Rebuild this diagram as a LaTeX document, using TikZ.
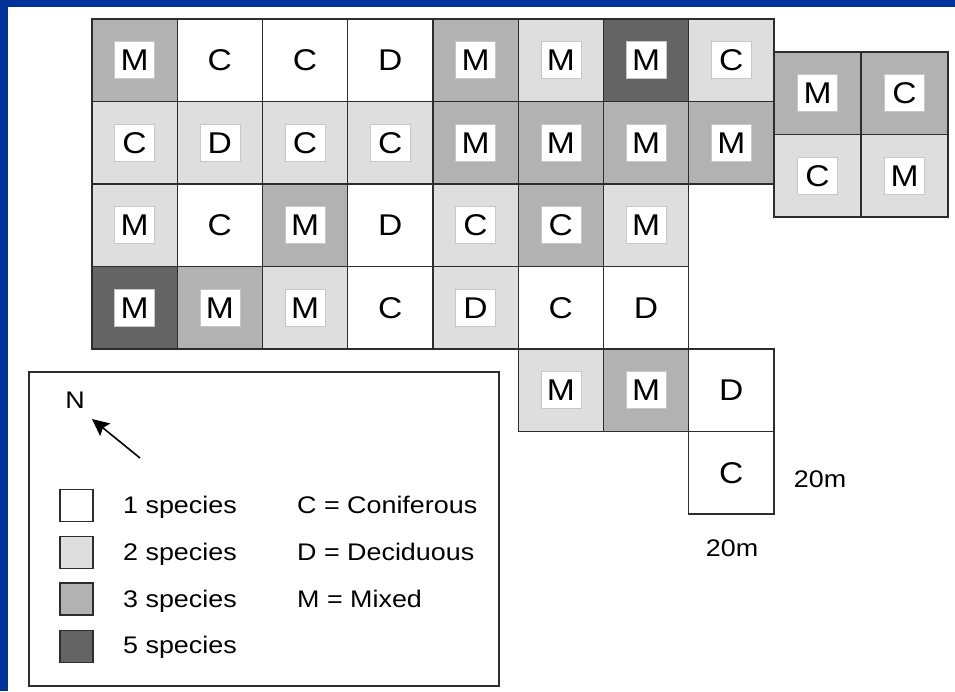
\documentclass[tikz,border=0pt]{standalone}
\usepackage{fontspec}
\setmainfont{Liberation Sans}
\newfontfamily\widesans[FakeStretch=1.12]{Liberation Sans}
\usetikzlibrary{arrows.meta}

\definecolor{frameblue}{RGB}{0,51,153}
\definecolor{shadeone}{RGB}{255,255,255}
\definecolor{shadetwo}{RGB}{222,222,222}
\definecolor{shadethree}{RGB}{178,178,178}
\definecolor{shadefive}{RGB}{100,100,100}
\definecolor{gridline}{RGB}{45,45,45}

\begin{document}
\begin{tikzpicture}[x=1pt,y=-1pt,
  plot/.style={draw=gridline, line width=1.3pt, inner sep=0pt, outer sep=0pt,
    minimum width=85.25pt, minimum height=82.5pt},
  wideplot/.style={plot, minimum width=87pt},
  sp1/.style={fill=shadeone},
  sp2/.style={fill=shadetwo},
  sp3/.style={fill=shadethree},
  sp5/.style={fill=shadefive},
  tag/.style={font=\widesans\fontsize{30pt}{31pt}\selectfont, inner sep=0pt},
  plain/.style={tag},
  boxed/.style={tag, fill=white, draw=black!22, line width=0.6pt,
    minimum width=40pt, minimum height=37pt},
  swatch/.style={draw=gridline, line width=1.2pt, minimum width=33pt,
    minimum height=32pt, inner sep=0pt},
  legtext/.style={font=\widesans\fontsize{24pt}{26pt}\selectfont, inner sep=0pt,
    anchor=base west},
]
% page and frame
\useasboundingbox (0,0) rectangle (955,691);
\fill[white] (0,0) rectangle (955,691);
\fill[frameblue] (0,0) rectangle (955,7);
\fill[frameblue] (0,0) rectangle (8,691);

% main block of 20m plots: column/row/species class/type/label style
\foreach \c/\r/\s/\l/\b in {
  0/0/sp3/M/boxed, 1/0/sp1/C/plain, 2/0/sp1/C/plain, 3/0/sp1/D/plain,
  4/0/sp3/M/boxed, 5/0/sp2/M/boxed, 6/0/sp5/M/boxed, 7/0/sp2/C/boxed,
  0/1/sp2/C/boxed, 1/1/sp2/D/boxed, 2/1/sp2/C/boxed, 3/1/sp2/C/boxed,
  4/1/sp3/M/boxed, 5/1/sp3/M/boxed, 6/1/sp3/M/boxed, 7/1/sp3/M/boxed,
  0/2/sp2/M/boxed, 1/2/sp1/C/plain, 2/2/sp3/M/boxed, 3/2/sp1/D/plain,
  4/2/sp2/C/boxed, 5/2/sp3/C/boxed, 6/2/sp2/M/boxed,
  0/3/sp5/M/boxed, 1/3/sp3/M/boxed, 2/3/sp2/M/boxed, 3/3/sp1/C/plain,
  4/3/sp2/D/boxed, 5/3/sp1/C/plain, 6/3/sp1/D/plain,
  5/4/sp2/M/boxed, 6/4/sp3/M/boxed, 7/4/sp1/D/plain,
  7/5/sp1/C/plain}
{
  \node[plot, \s] (cell-\c-\r) at ({134.6+85.25*\c}, {60.25+82.5*\r}) {};
  \node[\b] (tag-\c-\r) at (cell-\c-\r.center) {\l};
}

% detached 2x2 block on the east side
\foreach \c/\r/\s/\l in {0/0/sp3/M, 1/0/sp3/C, 0/1/sp2/C, 1/1/sp2/M}
{
  \node[wideplot, \s] (east-\c-\r) at ({817.5+87*\c}, {93.25+82.5*\r}) {};
  \node[boxed] (easttag-\c-\r) at (east-\c-\r.center) {\l};
}

% scale labels
\node[legtext, anchor=center] (scale-v) at (820,479) {20m};
\node[legtext, anchor=center] (scale-h) at (732,548) {20m};

% legend
\node[draw=gridline, line width=1.4pt, minimum width=470pt, minimum height=314pt,
  inner sep=0pt] (legend) at (264,529) {};
\node[legtext, anchor=center] (north) at (75,400) {N};
\coordinate (arrowtail) at (140,458);
\coordinate (arrowhead) at (92,419);
\draw[line width=1.6pt, -{Stealth[length=17pt,width=16pt,inset=3pt]}] (arrowtail) -- (arrowhead);

\node[swatch, fill=shadeone]   (key-1) at (76.5,505.5) {};
\node[swatch, fill=shadetwo]   (key-2) at (76.5,552.5) {};
\node[swatch, fill=shadethree] (key-3) at (76.5,599)   {};
\node[swatch, fill=shadefive]  (key-5) at (76.5,646.5) {};

\node[legtext] (lab-1) at (123,513) {1 species};
\node[legtext] (lab-2) at (123,560) {2 species};
\node[legtext] (lab-3) at (123,607) {3 species};
\node[legtext] (lab-5) at (123,653) {5 species};

\node[legtext] (type-c) at (297,513) {C = Coniferous};
\node[legtext] (type-d) at (297,560) {D = Deciduous};
\node[legtext] (type-m) at (297,607) {M = Mixed};
\end{tikzpicture}
\end{document}
